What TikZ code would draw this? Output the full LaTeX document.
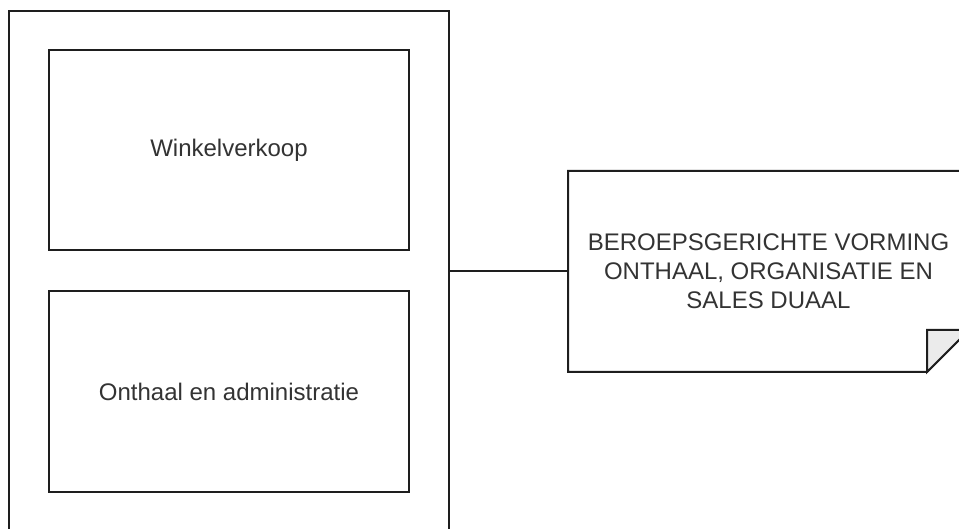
\documentclass[tikz,border=0pt]{standalone}
\usepackage{fontspec}
\setmainfont{Liberation Sans}
\definecolor{linec}{HTML}{1E1E1E}
\definecolor{textc}{HTML}{333333}
\definecolor{foldc}{HTML}{EBEBEB}
\tikzset{
  box/.style={draw=linec, line width=2pt, fill=white, inner sep=0pt, outer sep=0pt, text=textc,
    font=\fontsize{24}{28.8}\selectfont, align=center},
  conn/.style={draw=linec, line width=2pt},
}
\begin{document}
\begin{tikzpicture}[x=1pt, y=-1pt]
\useasboundingbox (0,0) rectangle (959,529);
\clip (0,0) rectangle (959,529);
% outer container
\node[box, minimum width=440pt, minimum height=560pt] (outer) at (229,291) {};
% inner boxes
\node[box, minimum width=360pt, minimum height=200pt] (winkel) at (229,150.5) {Winkelverkoop};
\node[box, minimum width=360pt, minimum height=201pt] (onthaal) at (229,391.5) {Onthaal en administratie};
% note
\node[box, draw=none, fill=none, minimum width=401pt, minimum height=201pt] (note) at (768.5,271.5)
  {BEROEPSGERICHTE VORMING\\ONTHAAL, ORGANISATIE EN\\SALES DUAAL};
\draw[conn, line join=miter] (note.north west) -- (note.north east) -- ([yshift=42pt]note.south east)
  -- ([xshift=-42pt]note.south east) -- (note.south west) -- cycle;
\draw[conn, fill=foldc, line join=miter] ([xshift=-42pt]note.south east) -- ([xshift=-42pt,yshift=42pt]note.south east)
  -- ([yshift=42pt]note.south east) -- cycle;
% connector
\draw[conn] (outer.east |- note.west) -- (note.west);
\end{tikzpicture}
\end{document}
